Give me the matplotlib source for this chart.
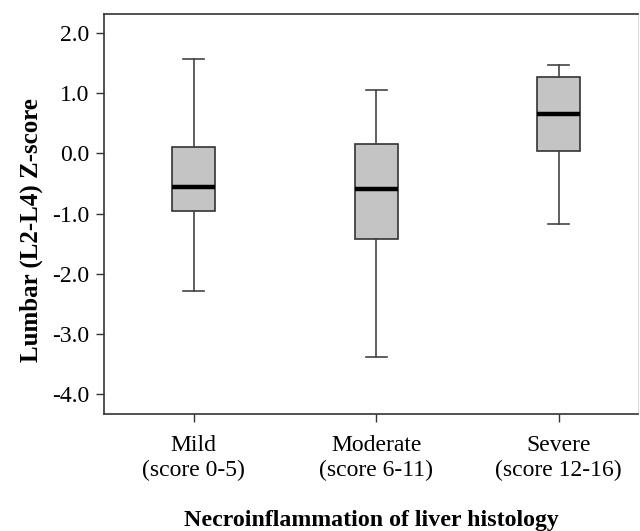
import matplotlib
matplotlib.use("Agg")
import matplotlib.pyplot as plt

plt.rcParams["font.family"] = ["Liberation Serif", "DejaVu Serif"]

categories = ["Mild\n(score 0-5)", "Moderate\n(score 6-11)", "Severe\n(score 12-16)"]
whisker_low = [-2.28, -3.38, -1.17]
q1 = [-0.95, -1.42, 0.04]
median = [-0.56, -0.60, 0.65]
q3 = [0.10, 0.15, 1.26]
whisker_high = [1.57, 1.05, 1.47]
yticks = [2.0, 1.0, 0.0, -1.0, -2.0, -3.0, -4.0]

stats = []
for i in range(len(categories)):
    stats.append({"whislo": whisker_low[i], "q1": q1[i], "med": median[i],
                  "q3": q3[i], "whishi": whisker_high[i], "fliers": []})

fig = plt.figure(figsize=(6.4, 5.31), dpi=100)
ax = fig.add_axes([104.3 / 640, 1 - 413.7 / 531, 534 / 640, 399.7 / 531])

ax.bxp(stats, positions=[1, 2, 3], widths=0.234, showfliers=False, patch_artist=True,
       boxprops=dict(facecolor="#c4c4c4", edgecolor="#333333", linewidth=1.2),
       medianprops=dict(color="black", linewidth=3.2),
       whiskerprops=dict(color="#444444", linewidth=1.2),
       capprops=dict(color="#444444", linewidth=1.2))

ax.set_xlim(0.51, 3.436)
ax.set_ylim(-4.32, 2.31)
ax.set_yticks(yticks)
ax.set_yticklabels(["%.1f" % v for v in yticks])
ax.set_xticks([1, 2, 3])
ax.set_xticklabels(categories)
ax.tick_params(axis="both", direction="out", length=5.5, width=1, color="#333333",
               labelsize=17, pad=5)
ax.tick_params(axis="x", pad=10)

for s in ["left", "bottom", "top"]:
    ax.spines[s].set_color("#333333")
    ax.spines[s].set_linewidth(1.2)
ax.spines["right"].set_color("#dddddd")

ax.set_ylabel("Lumbar (L2-L4) Z-score", fontsize=18, fontweight="bold", labelpad=7, y=0.46)
ax.set_xlabel("Necroinflammation of liver histology", fontsize=17.2, fontweight="bold",
              labelpad=21)

fig.savefig("out.png", dpi=100)
